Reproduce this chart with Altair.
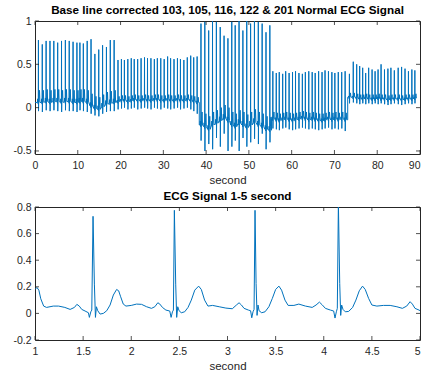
import altair as alt
import pandas as pd

# ---------------- top panel: five records, beat by beat ----------------
seg_start = [0.0, 19.0, 38.4, 55.3, 73.1]
seg_end = [19.0, 38.4, 55.3, 73.1, 89.2]

rec103_t = [0.8, 1.7, 2.6, 3.5, 4.4, 5.3, 6.2, 7.1, 8.0, 8.9, 9.8, 10.5, 11.3, 12.2, 13.1, 14.0, 14.9, 15.8, 16.7, 17.6, 18.5]
rec103_r = [0.78, 0.73, 0.77, 0.77, 0.77, 0.75, 0.77, 0.78, 0.77, 0.76, 0.75, 0.75, 0.74, 0.77, 0.79, 0.62, 0.67, 0.72, 0.70, 0.78, 0.78]
rec103_b = [0.06, 0.06, 0.07, 0.06, 0.07, 0.07, 0.06, 0.07, 0.07, 0.06, 0.06, 0.07, 0.07, 0.06, 0.02, -0.01, -0.02, 0.01, 0.04, 0.05, 0.06]
rec103_s = [-0.04, -0.05, -0.03, -0.04, -0.03, -0.04, -0.05, -0.03, -0.04, -0.04, -0.05, -0.03, -0.04, -0.05, -0.07, -0.09, -0.1, -0.07, -0.05, -0.04, -0.04]
rec103_tw = 0.14

rec105_t = [19.4, 20.2, 20.9, 21.7, 22.5, 23.2, 24.0, 24.8, 25.6, 26.3, 27.1, 27.9, 28.6, 29.4, 30.2, 31.0, 31.7, 32.5, 33.3, 34.0, 34.8, 35.6, 36.4, 37.1, 37.9]
rec105_r = [0.55, 0.56, 0.55, 0.56, 0.57, 0.56, 0.56, 0.57, 0.58, 0.57, 0.57, 0.56, 0.57, 0.57, 0.56, 0.59, 0.57, 0.56, 0.57, 0.56, 0.55, 0.58, 0.60, 0.58, 0.59]
rec105_b = [0.07, 0.08, 0.08, 0.07, 0.08, 0.09, 0.08, 0.08, 0.09, 0.08, 0.08, 0.09, 0.09, 0.08, 0.08, 0.09, 0.08, 0.08, 0.09, 0.08, 0.08, 0.09, 0.08, 0.07, 0.06]
rec105_s = [-0.02, -0.01, 0.0, -0.02, -0.01, 0.0, -0.02, -0.01, 0.0, -0.01, -0.02, 0.0, -0.01, -0.02, 0.0, -0.01, -0.02, -0.01, 0.0, -0.02, -0.01, 0.0, -0.02, -0.04, -0.07]
rec105_tw = 0.06

rec116_t = [38.8, 39.7, 40.6, 41.5, 42.4, 43.3, 44.2, 45.1, 46.0, 46.8, 47.7, 48.6, 49.5, 50.4, 51.3, 52.2, 53.1, 54.0, 54.9]
rec116_r = [0.97, 0.99, 0.89, 1.0, 0.99, 0.93, 0.83, 0.8, 0.99, 0.95, 1.03, 0.89, 1.0, 0.97, 1.0, 0.99, 0.97, 0.87, 0.95]
rec116_b = [-0.2, -0.22, -0.25, -0.2, -0.18, -0.15, -0.12, -0.15, -0.2, -0.22, -0.18, -0.2, -0.23, -0.2, -0.17, -0.2, -0.22, -0.25, -0.26]
rec116_s = [-0.38, -0.5, -0.42, -0.48, -0.35, -0.45, -0.3, -0.5, -0.45, -0.38, -0.5, -0.35, -0.45, -0.4, -0.36, -0.42, -0.3, -0.48, -0.4]
rec116_tw = 0.15

rec122_t = [55.6, 56.4, 57.1, 57.9, 58.6, 59.4, 60.2, 60.9, 61.7, 62.5, 63.2, 64.0, 64.8, 65.5, 66.3, 67.1, 67.8, 68.6, 69.4, 70.1, 70.9, 71.7, 72.5]
rec122_r = [0.42, 0.40, 0.41, 0.39, 0.42, 0.40, 0.41, 0.42, 0.40, 0.39, 0.41, 0.42, 0.41, 0.40, 0.42, 0.41, 0.43, 0.42, 0.41, 0.40, 0.41, 0.41, 0.42]
rec122_b = [-0.13, -0.14, -0.15, -0.14, -0.13, -0.14, -0.15, -0.14, -0.13, -0.12, -0.13, -0.14, -0.13, -0.14, -0.15, -0.15, -0.14, -0.13, -0.14, -0.13, -0.14, -0.13, -0.14]
rec122_s = [-0.24, -0.25, -0.26, -0.24, -0.23, -0.25, -0.26, -0.25, -0.24, -0.23, -0.24, -0.25, -0.24, -0.25, -0.26, -0.25, -0.24, -0.23, -0.25, -0.24, -0.25, -0.24, -0.27]
rec122_tw = 0.08

rec201_t = [73.5, 74.4, 75.2, 75.9, 76.6, 77.3, 78.0, 78.8, 79.5, 80.2, 80.9, 81.7, 82.5, 83.2, 84.0, 84.9, 85.7, 86.5, 87.3, 88.1, 88.8]
rec201_r = [0.39, 0.53, 0.50, 0.48, 0.46, 0.40, 0.46, 0.44, 0.42, 0.44, 0.50, 0.44, 0.45, 0.46, 0.43, 0.46, 0.47, 0.45, 0.42, 0.44, 0.43]
rec201_b = [0.12, 0.12, 0.11, 0.1, 0.1, 0.11, 0.1, 0.1, 0.1, 0.11, 0.1, 0.1, 0.09, 0.1, 0.1, 0.1, 0.09, 0.1, 0.1, 0.1, 0.11]
rec201_s = [0.05, 0.06, 0.05, 0.04, 0.05, 0.04, 0.05, 0.04, 0.05, 0.04, 0.05, 0.04, 0.03, 0.04, 0.05, 0.04, 0.03, 0.04, 0.05, 0.04, 0.05]
rec201_tw = 0.05

# per-beat waveform shape (offset from R time in s)
shape_dt = [-0.22, -0.17, -0.12, -0.03, 0.0, 0.025, 0.06, 0.15, 0.25, 0.35]

# ---------------- bottom panel: 1-5 s excerpt ----------------
ecg_t = [1.0, 1.02, 1.04, 1.06, 1.09, 1.12, 1.19, 1.245, 1.31, 1.365, 1.41, 1.435, 1.46, 1.486, 1.52, 1.555,
         1.565, 1.58, 1.59, 1.603, 1.617, 1.628, 1.638, 1.652, 1.676, 1.71, 1.745, 1.78, 1.814, 1.848, 1.869,
         1.89, 1.917, 1.945, 2.0, 2.055, 2.107, 2.16, 2.21, 2.245, 2.276, 2.297, 2.324, 2.36, 2.4, 2.414,
         2.428, 2.438, 2.448, 2.462, 2.472, 2.483, 2.497, 2.52, 2.555, 2.59, 2.624, 2.66, 2.7, 2.728, 2.762,
         2.797, 2.845, 2.914, 2.983, 3.05, 3.093, 3.12, 3.145, 3.172, 3.217, 3.24, 3.252, 3.265, 3.276,
         3.286, 3.297, 3.307, 3.317, 3.328, 3.355, 3.39, 3.43, 3.466, 3.5, 3.534, 3.562, 3.597, 3.63, 3.69,
         3.741, 3.81, 3.88, 3.92, 3.955, 3.983, 4.017, 4.069, 4.103, 4.117, 4.131, 4.141, 4.152, 4.166,
         4.176, 4.186, 4.2, 4.224, 4.259, 4.3, 4.334, 4.369, 4.403, 4.431, 4.466, 4.5, 4.552, 4.62, 4.69,
         4.76, 4.817, 4.862, 4.897, 4.921, 4.948, 4.99, 5.0]
ecg_v = [0.18, 0.195, 0.175, 0.11, 0.055, 0.045, 0.055, 0.055, 0.045, 0.03, 0.045, 0.068, 0.055, 0.03, 0.018, 0.005,
         -0.03, 0.012, 0.025, 0.73, 0.22, -0.03, 0.05, 0.02, -0.005, 0.0, 0.02, 0.063, 0.138, 0.18, 0.17,
         0.125, 0.07, 0.055, 0.06, 0.07, 0.068, 0.05, 0.038, 0.05, 0.08, 0.07, 0.045, 0.025, 0.018, -0.03,
         0.012, 0.025, 0.775, 0.22, -0.03, 0.05, 0.02, 0.005, 0.012, 0.045, 0.1, 0.175, 0.205, 0.18, 0.1,
         0.055, 0.06, 0.05, 0.04, 0.035, 0.063, 0.08, 0.063, 0.038, 0.025, 0.02, -0.033, 0.012, 0.03,
         0.775, 0.225, -0.015, 0.063, 0.02, 0.005, 0.012, 0.05, 0.113, 0.18, 0.205, 0.175, 0.1, 0.06, 0.06,
         0.07, 0.055, 0.045, 0.063, 0.085, 0.065, 0.038, 0.025, 0.018, -0.035, 0.012, 0.038, 0.83, 0.225,
         -0.015, 0.063, 0.03, 0.012, 0.015, 0.045, 0.1, 0.17, 0.205, 0.18, 0.113, 0.063, 0.055, 0.06, 0.06,
         0.05, 0.038, 0.055, 0.088, 0.07, 0.038, 0.025, 0.02]

top_xticks = [0, 10, 20, 30, 40, 50, 60, 70, 80, 90]
top_yticks = [-0.5, 0, 0.5, 1]
bot_xticks = [1, 1.5, 2, 2.5, 3, 3.5, 4, 4.5, 5]
bot_yticks = [-0.2, 0, 0.2, 0.4, 0.6, 0.8]

title_top = "Base line corrected 103, 105, 116, 122 & 201 Normal ECG Signal"
title_bot = "ECG Signal 1-5 second"

# ---------------- build the top-panel table ----------------
records = [
    (rec103_t, rec103_r, rec103_b, rec103_s, rec103_tw),
    (rec105_t, rec105_r, rec105_b, rec105_s, rec105_tw),
    (rec116_t, rec116_r, rec116_b, rec116_s, rec116_tw),
    (rec122_t, rec122_r, rec122_b, rec122_s, rec122_tw),
    (rec201_t, rec201_r, rec201_b, rec201_s, rec201_tw),
]
rows_t, rows_v = [], []
for (ts, rs, bs, ss, tw), a, z in zip(records, seg_start, seg_end):
    rows_t.append(a)
    rows_v.append(bs[0])
    for t, r, b, s in zip(ts, rs, bs, ss):
        vals = [b, b + 0.3 * tw, b, b - 0.02, r, s, b, b + 0.3 * tw, b + tw, b]
        for dt, v in zip(shape_dt, vals):
            if a < t + dt < z:
                rows_t.append(t + dt)
                rows_v.append(v)
    rows_t.append(z)
    rows_v.append(bs[-1])
top_df = pd.DataFrame({"t": rows_t, "v": rows_v})
bot_df = pd.DataFrame({"t": ecg_t, "v": ecg_v})

W, H = 385, 133
BLUE = "#0072BD"
AX = "#262626"
FIX = "'' + datum.value"


def panel(df, xdom, ydom, xt, yt, title, sw):
    xs = alt.Scale(domain=xdom, nice=False, zero=False)
    ys = alt.Scale(domain=ydom, nice=False, zero=False)
    last = xt[-1]
    xax = alt.Axis(values=xt, title="second", labelExpr=FIX,
                   labelAlign={"condition": {"test": f"datum.value == {last}", "value": "right"},
                               "value": "center"})
    yax = alt.Axis(values=yt, title=None, labelExpr=FIX)
    line = alt.Chart(df).mark_line(color=BLUE, strokeWidth=sw, clip=True).encode(
        x=alt.X("t:Q", scale=xs, axis=xax),
        y=alt.Y("v:Q", scale=ys, axis=yax),
    )
    xtd = pd.DataFrame({"t": xt})
    ytd = pd.DataFrame({"v": yt})
    xb = alt.Chart(xtd).mark_rule(color=AX, strokeWidth=0.8).encode(
        x=alt.X("t:Q", scale=xs, axis=xax), y=alt.value(H), y2=alt.value(H - 4))
    xtop = alt.Chart(xtd).mark_rule(color=AX, strokeWidth=0.8).encode(
        x=alt.X("t:Q", scale=xs, axis=xax), y=alt.value(0), y2=alt.value(4))
    yl = alt.Chart(ytd).mark_rule(color=AX, strokeWidth=0.8).encode(
        y=alt.Y("v:Q", scale=ys, axis=yax), x=alt.value(0), x2=alt.value(4))
    yr = alt.Chart(ytd).mark_rule(color=AX, strokeWidth=0.8).encode(
        y=alt.Y("v:Q", scale=ys, axis=yax), x=alt.value(W), x2=alt.value(W - 4))
    return alt.layer(line, xb, xtop, yl, yr).properties(
        width=W, height=H,
        title=alt.TitleParams(title, fontSize=11.7, fontWeight="bold", font="Liberation Sans",
                              color="#000000", offset=-1),
    )


top = panel(top_df, [0, 90], [-0.535, 1], top_xticks, top_yticks, title_top, 1.0)
bot = panel(bot_df, [1, 5], [-0.2, 0.8], bot_xticks, bot_yticks, title_bot, 1.0)

chart = alt.vconcat(top, bot, spacing=3).properties(
    padding={"left": 12, "top": 4, "right": 0, "bottom": 0},
    background="white",
).configure_view(stroke=AX, strokeWidth=1).configure_axis(
    domain=False, ticks=False, grid=False,
    labelFont="Liberation Sans", labelFontSize=10.5, labelColor=AX, labelPadding=4,
    titleFont="Liberation Sans", titleFontSize=11.5, titleFontWeight="normal", titleColor=AX,
    titlePadding=4,
).configure_axisX(labelPadding=6)

chart.save("out.html", embed_options={"renderer": "svg", "actions": False})
